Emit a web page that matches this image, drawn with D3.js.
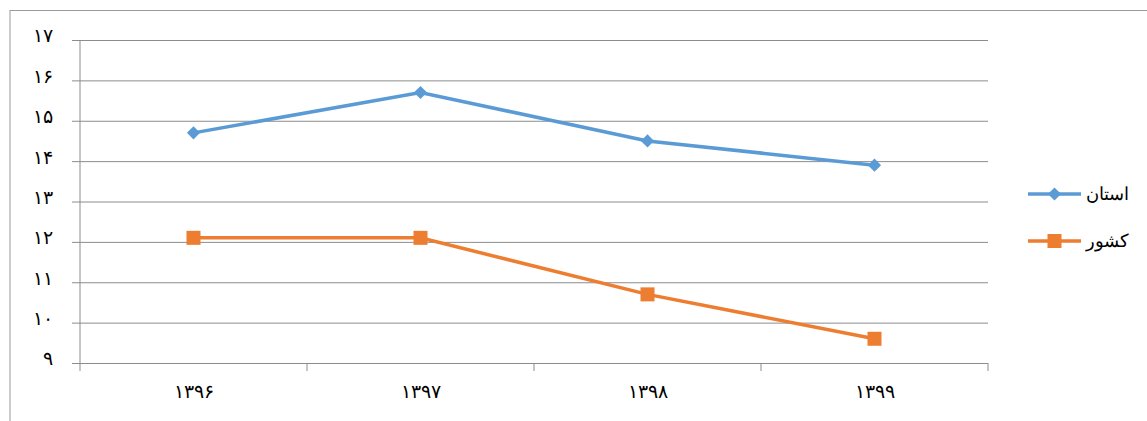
<!DOCTYPE html>
<html>
<head>
<meta charset="utf-8">
<script src="https://cdn.jsdelivr.net/npm/d3@7"></script>
<style>
  body { margin: 0; background: #fff; }
  text { font-family: "Times New Roman", "Liberation Serif", "DejaVu Serif", serif; fill: #000; }
</style>
</head>
<body>
<div id="chart"></div>
<script>
// data
const years = ["۱۳۹۶", "۱۳۹۷", "۱۳۹۸", "۱۳۹۹"];
const ostanValues = [14.7, 15.7, 14.5, 13.9];
const keshvarValues = [12.1, 12.1, 10.7, 9.6];
const seriesNames = ["استان", "کشور"];
const yTicks = [9, 10, 11, 12, 13, 14, 15, 16, 17];

const toFa = n => String(n).replace(/\d/g, d => "۰۱۲۳۴۵۶۷۸۹"[d]);

const W = 1147, H = 421;
const margin = {top: 40, right: 159, bottom: 58, left: 80};
const width = W - margin.left - margin.right;
const height = H - margin.top - margin.bottom;

const svg = d3.select("#chart").append("svg")
  .attr("width", W)
  .attr("height", H);

// outer chart border (top + left visible)
svg.append("rect")
  .attr("x", 10).attr("y", 10.5)
  .attr("width", W + 20).attr("height", H + 20)
  .attr("fill", "none")
  .attr("stroke", "#9a9a9a")
  .attr("stroke-width", 1);

const g = svg.append("g")
  .attr("transform", "translate(" + margin.left + "," + margin.top + ")");

const x = d3.scaleBand()
  .domain(years)
  .range([0, width]);

const y = d3.scaleLinear()
  .domain([9, 17])
  .range([height, 0]);

// gridlines + y axis
const yAxis = d3.axisLeft(y)
  .tickValues(yTicks)
  .tickSize(-width)
  .tickPadding(27)
  .tickFormat(toFa);

const yG = g.append("g").call(yAxis);
yG.select(".domain").remove();
yG.selectAll(".tick line")
  .attr("x1", -8)
  .attr("stroke", "#8c8c8c")
  .attr("stroke-width", 1);
yG.selectAll(".tick text")
  .style("font-size", "19px")
  .style("letter-spacing", "2px")
  .attr("dy", "0.1em");

// vertical axis line
g.append("line")
  .attr("x1", 0).attr("x2", 0)
  .attr("y1", 0).attr("y2", height + 8)
  .attr("stroke", "#8c8c8c");

// x axis
const xAxis = d3.axisBottom(x)
  .tickSize(0)
  .tickPadding(22);

const xG = g.append("g")
  .attr("transform", "translate(0," + height + ")")
  .call(xAxis);
xG.select(".domain").remove();
xG.selectAll(".tick text")
  .style("font-size", "19px")
  .style("letter-spacing", "3px");

const bounds = years.map(d => x(d)).concat([width]).slice(1);
g.selectAll(".xtick")
  .data(bounds)
  .enter().append("line")
  .attr("x1", d => d).attr("x2", d => d)
  .attr("y1", height).attr("y2", height + 8)
  .attr("stroke", "#8c8c8c");

const cx = d => x(d) + x.bandwidth() / 2;

const line = d3.line()
  .x((d, i) => cx(years[i]))
  .y(d => y(d));

// blue series
g.append("path")
  .datum(ostanValues)
  .attr("fill", "none")
  .attr("stroke", "#5b9bd5")
  .attr("stroke-width", 3.5)
  .attr("d", line);

g.selectAll(".ostan")
  .data(ostanValues)
  .enter().append("path")
  .attr("d", d3.symbol(d3.symbolDiamond2, 110)())
  .attr("transform", (d, i) => "translate(" + cx(years[i]) + "," + y(d) + ")")
  .attr("fill", "#5b9bd5");

// orange series
g.append("path")
  .datum(keshvarValues)
  .attr("fill", "none")
  .attr("stroke", "#ed7d31")
  .attr("stroke-width", 3.5)
  .attr("d", line);

g.selectAll(".keshvar")
  .data(keshvarValues)
  .enter().append("rect")
  .attr("x", (d, i) => cx(years[i]) - 7)
  .attr("y", d => y(d) - 7)
  .attr("width", 14).attr("height", 14)
  .attr("fill", "#ed7d31");

// legend
const legend = svg.append("g");
const legendY = [194, 241];
const legendColors = ["#5b9bd5", "#ed7d31"];

seriesNames.forEach((name, i) => {
  legend.append("line")
    .attr("x1", 1028).attr("x2", 1081)
    .attr("y1", legendY[i]).attr("y2", legendY[i])
    .attr("stroke", legendColors[i])
    .attr("stroke-width", 3.5);
  if (i === 0) {
    legend.append("path")
      .attr("d", d3.symbol(d3.symbolDiamond2, 110)())
      .attr("transform", "translate(1054.5," + legendY[i] + ")")
      .attr("fill", legendColors[i]);
  } else {
    legend.append("rect")
      .attr("x", 1047.5).attr("y", legendY[i] - 7)
      .attr("width", 14).attr("height", 14)
      .attr("fill", legendColors[i]);
  }
  legend.append("text")
    .attr("x", 1086)
    .attr("y", legendY[i])
    .attr("dy", "0.35em")
    .attr("text-anchor", "start")
    .style("font-size", "18px")
    .text(name);
});
</script>
</body>
</html>
